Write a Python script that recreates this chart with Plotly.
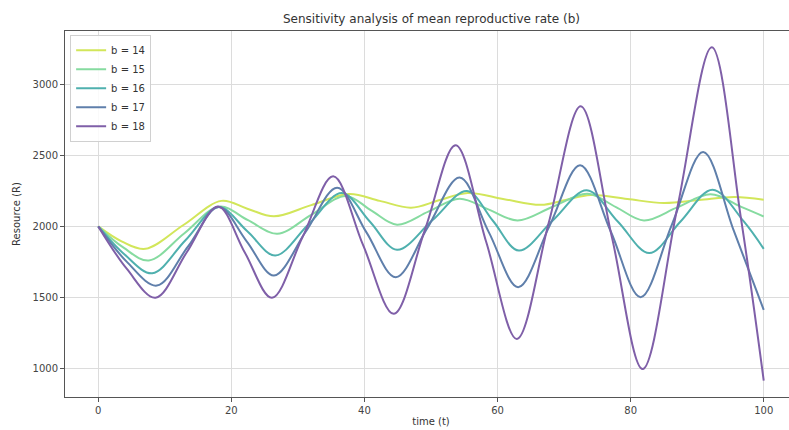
import plotly.graph_objects as go

# ---- data ----
labels = ["b = 14", "b = 15", "b = 16", "b = 17", "b = 18"]

t14 = [0, 3.5, 7.1, 12.8, 18.5, 22.4, 26.4, 32.0, 37.7, 42.3, 47.0, 51.2, 55.5, 61.0, 66.5, 70.2, 74.0, 79.5, 85.0, 90.3, 95.6, 100]
r14 = [2000, 1895, 1842, 2010, 2180, 2125, 2071, 2150, 2228, 2180, 2132, 2184, 2235, 2192, 2152, 2186, 2221, 2193, 2165, 2186, 2207, 2188]

t15 = [0, 3.8, 7.6, 12.9, 18.2, 22.5, 26.9, 32.0, 37.2, 41.0, 44.9, 49.6, 54.3, 58.7, 63.0, 68.2, 73.5, 77.8, 82.0, 87.0, 92.0, 96.8, 100]
r15 = [2000, 1850, 1760, 1950, 2140, 2044, 1948, 2082, 2215, 2113, 2012, 2104, 2195, 2118, 2042, 2137, 2231, 2136, 2042, 2134, 2226, 2134, 2070]

t16 = [0, 4.0, 8.1, 13.1, 18.1, 22.4, 26.6, 31.6, 36.6, 40.8, 44.9, 50.2, 55.4, 59.3, 63.2, 68.3, 73.4, 78.1, 82.8, 87.5, 92.3, 97.0, 100]
r16 = [2000, 1800, 1670, 1903, 2136, 1966, 1795, 2015, 2235, 2035, 1835, 2043, 2250, 2040, 1830, 2042, 2254, 2033, 1812, 2035, 2259, 2035, 1842]

t17 = [0, 4.3, 8.8, 13.5, 18.1, 22.3, 26.4, 31.2, 35.9, 40.3, 44.7, 49.5, 54.3, 58.7, 63.1, 67.8, 72.4, 77.0, 81.5, 86.2, 90.9, 95.5, 100]
r17 = [2000, 1750, 1583, 1860, 2136, 1895, 1654, 1964, 2273, 1958, 1642, 1993, 2344, 1958, 1572, 2002, 2431, 1966, 1501, 2013, 2525, 1970, 1412]

t18 = [0, 4.3, 8.6, 13.3, 18.0, 22.0, 26.1, 30.7, 35.3, 39.8, 44.4, 49.1, 53.7, 58.3, 62.9, 67.7, 72.5, 77.2, 81.8, 87.0, 92.2, 96.6, 100]
r18 = [2000, 1700, 1497, 1818, 2140, 1818, 1497, 1925, 2353, 1868, 1384, 1978, 2572, 1890, 1207, 2027, 2847, 1921, 995, 2128, 3262, 2050, 913]

x_ticks = [0, 20, 40, 60, 80, 100]
y_ticks = [1000, 1500, 2000, 2500, 3000]

colors = ["#d2e65a", "#86dba0", "#4fb0ae", "#5f7fab", "#7f5fa8"]

series = [(t14, r14), (t15, r15), (t16, r16), (t17, r17), (t18, r18)]

FONT = "DejaVu Sans"
fig = go.Figure()
for (tt, rr), name, c in zip(series, labels, colors):
    fig.add_trace(go.Scatter(
        x=tt, y=rr, name=name, mode="lines",
        line=dict(color=c, width=2, shape="spline", smoothing=1.0),
    ))

fig.update_layout(
    width=797, height=430,
    paper_bgcolor="white", plot_bgcolor="white",
    margin=dict(l=65, r=0, t=31, b=33, autoexpand=False),
    font=dict(family=FONT, size=10, color="#333333"),
    showlegend=True,
    legend=dict(
        x=0.007, y=0.99, xanchor="left", yanchor="top",
        bgcolor="rgba(255,255,255,0.85)", bordercolor="#d0d0d0", borderwidth=1,
        font=dict(family=FONT, size=10, color="#333333"),
        itemwidth=30, tracegroupgap=0,
    ),
    annotations=[
        dict(text="Sensitivity analysis of mean reproductive rate (b)",
             xref="x", yref="paper", x=50, y=1.0, yshift=12,
             xanchor="center", yanchor="middle", showarrow=False,
             font=dict(family=FONT, size=12, color="#333333")),
    ],
)

fig.update_xaxes(
    range=[-5, 105], tickvals=x_ticks, ticktext=[str(v) for v in x_ticks],
    showgrid=True, gridcolor="#dcdcdc", gridwidth=1, zeroline=False,
    showline=True, linecolor="#555555", linewidth=1, mirror=True,
    ticks="outside", ticklen=4, tickcolor="#555555",
    tickfont=dict(family=FONT, size=10, color="#444444"),
    title=dict(text="time (t)", standoff=2, font=dict(family=FONT, size=10, color="#333333")),
    automargin=False,
)
fig.update_yaxes(
    range=[798, 3377], tickvals=y_ticks, ticktext=[str(v) for v in y_ticks],
    showgrid=True, gridcolor="#dcdcdc", gridwidth=1, zeroline=False,
    showline=True, linecolor="#555555", linewidth=1, mirror=False,
    ticks="outside", ticklen=4, tickcolor="#555555",
    tickfont=dict(family=FONT, size=10, color="#444444"),
    title=dict(text="Resource (R)", standoff=10, font=dict(family=FONT, size=10, color="#333333")),
    automargin=False,
)

fig.write_html(
    "out.html",
    config={"displayModeBar": False},
    post_script=(
        "document.body.style.margin='0';"
        "document.body.style.overflow='hidden';"
        "document.documentElement.style.overflow='hidden';"
    ),
)
